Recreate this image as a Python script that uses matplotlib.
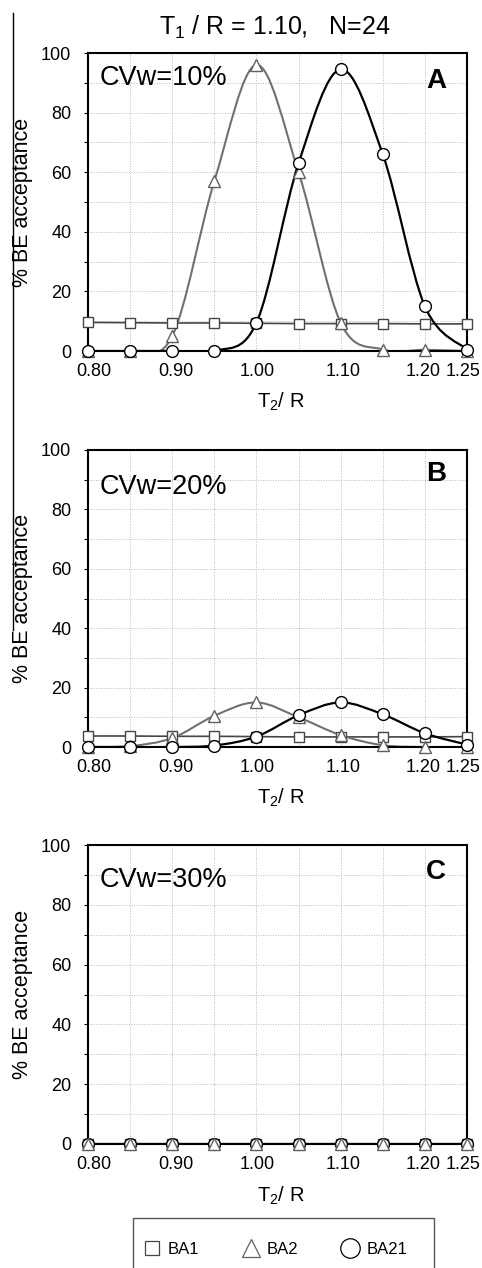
import matplotlib
matplotlib.use('Agg')
import matplotlib.pyplot as plt
from matplotlib.path import Path
from matplotlib.patches import PathPatch, Rectangle
from matplotlib.lines import Line2D
from matplotlib.transforms import ScaledTranslation

plt.rcParams['font.family'] = ['Liberation Sans', 'DejaVu Sans']
plt.rcParams['mathtext.fontset'] = 'custom'
plt.rcParams['mathtext.rm'] = 'Liberation Sans'

##################################
# DATA

t2_ratio = [0.80, 0.85, 0.90, 0.95, 1.00, 1.05, 1.10, 1.15, 1.20, 1.25]
tick_labels = ['0.80', '', '0.90', '', '1.00', '', '1.10', '', '1.20', '1.25']

ba1_a = [9.6, 9.5, 9.4, 9.4, 9.3, 9.2, 9.2, 9.2, 9.1, 9.1]
ba2_a = [0, 0, 5, 57, 96, 60, 9.5, 0.5, 0.4, 0]
ba21_a = [0, 0, 0, 0, 9.5, 63, 94.5, 66, 15, 0.5]

ba1_b = [3.7, 3.7, 3.6, 3.6, 3.5, 3.4, 3.4, 3.4, 3.4, 3.5]
ba2_b = [0, 0.3, 3, 10.5, 15, 10, 4, 0.6, 0, 0]
ba21_b = [0, 0, 0, 0.5, 3.5, 10.7, 15, 11, 4.6, 0.8]

ba1_c = [0, 0, 0, 0, 0, 0, 0, 0, 0, 0]
ba2_c = [0, 0, 0, 0, 0, 0, 0, 0, 0, 0]
ba21_c = [0, 0, 0, 0, 0, 0, 0, 0, 0, 0]

panel_letters = ['A', 'B', 'C']
cv_labels = ['CVw=10%', 'CVw=20%', 'CVw=30%']
series_names = ['BA1', 'BA2', 'BA21']


def smooth_path(x, y):
    """ Excel-like smoothed line through the points (cubic bezier segments) """
    n = len(x)
    verts = [(x[0], y[0])]
    codes = [Path.MOVETO]
    for i in range(n - 1):
        x0, y0 = (x[i - 1], y[i - 1]) if i > 0 else (x[i], y[i])
        x3, y3 = (x[i + 2], y[i + 2]) if i + 2 < n else (x[i + 1], y[i + 1])
        c1 = (x[i] + (x[i + 1] - x0) / 6, y[i] + (y[i + 1] - y0) / 6)
        c2 = (x[i + 1] - (x3 - x[i]) / 6, y[i + 1] - (y3 - y[i]) / 6)
        verts += [c1, c2, (x[i + 1], y[i + 1])]
        codes += [Path.CURVE4] * 3
    return Path(verts, codes)


# style of each series
styles = {
    'BA1': dict(color='#454545', lw=1.2, marker='s', ms=6.5, mec='#454545'),
    'BA2': dict(color='#707070', lw=1.5, marker='^', ms=8, mec='#606060'),
    'BA21': dict(color='black', lw=1.6, marker='o', ms=8.5, mec='black'),
}

W, H = 482, 1268
fig = plt.figure(figsize=(W / 100, H / 100), dpi=100)

# axes boxes in pixels: (top, bottom)
boxes = [(53, 351), (450, 747), (845, 1144)]
left_px, right_px = 88, 467
cv_y = [0.915, 0.875, 0.883]
letter_y = [0.905, 0.92, 0.91]
label_shift_px = [6, 0, 4, 0, 1, 0, 2, 0, -2, -4]
data = [(ba1_a, ba2_a, ba21_a), (ba1_b, ba2_b, ba21_b), (ba1_c, ba2_c, ba21_c)]

for k, (top, bot) in enumerate(boxes):
    ax = fig.add_axes([left_px / W, 1 - bot / H, (right_px - left_px) / W, (bot - top) / H])
    ax.set_xlim(0.80, 1.25)
    ax.set_ylim(0, 100)

    ax.set_xticks(t2_ratio)
    ax.set_xticklabels(tick_labels)
    ax.set_yticks(range(0, 101, 10))
    ax.set_yticklabels([str(v) if v % 20 == 0 else '' for v in range(0, 101, 10)])
    ax.tick_params(axis='x', length=0, pad=8.5, labelsize=13)
    ax.tick_params(axis='y', length=3, width=0.8, direction='out', pad=9, labelsize=13)
    for lab, dx in zip(ax.get_xticklabels(), label_shift_px):
        lab.set_transform(lab.get_transform() + ScaledTranslation(dx / 100, 0, fig.dpi_scale_trans))
    ax.grid(True, color='#b8b8b8', linestyle=(0, (1, 1.6)), linewidth=0.7)
    for sp in ax.spines.values():
        sp.set_linewidth(1.5)

    ax.set_xlabel('T$_\\mathregular{2}$/ R', fontsize=14.5)
    ax.xaxis.label.set_va('center')
    ax.xaxis.set_label_coords(0.51, -0.172)
    ax.text(-0.173, 0.5, '% BE acceptance', transform=ax.transAxes, rotation=90,
            ha='center', va='center', fontsize=15.5)

    for j, (name, values) in enumerate(zip(series_names, data[k])):
        st = styles[name]
        ax.add_patch(PathPatch(smooth_path(t2_ratio, values), fill=False,
                               edgecolor=st['color'], lw=st['lw'], zorder=2 + j * 0.1))
    for j, (name, values) in enumerate(zip(series_names, data[k])):
        st = styles[name]
        z = 4 + j
        if k == 2 and name == 'BA2':
            z = 8
        ax.plot(t2_ratio, values, ls='none', marker=st['marker'], ms=st['ms'],
                mfc='white', mec=st['mec'], mew=1.0, clip_on=False, zorder=z)

    ax.text(0.03, cv_y[k], cv_labels[k], transform=ax.transAxes, fontsize=19.5,
            ha='left', va='center', zorder=10)
    ax.text(0.918, letter_y[k], panel_letters[k], transform=ax.transAxes, fontsize=20,
            fontweight='bold', ha='center', va='center', zorder=10)

fig.text(275 / W, 1 - 27 / H, 'T$_\\mathregular{1}$ / R = 1.10,   N=24',
         ha='center', va='center', fontsize=18)

# border line left over from the original page
fig.add_artist(Line2D([13 / W, 13 / W], [1 - 13 / H, 1 - 630 / H],
                      transform=fig.transFigure, color='black', lw=1))

# legend box (runs off the bottom of the page)
fig.add_artist(Rectangle((133 / W, -0.01), 301 / W, 0.01 + 1 - 1218 / H,
                         transform=fig.transFigure, fill=False,
                         edgecolor='#555555', lw=1.0))
handles = [Line2D([], [], ls='none', marker=styles[n]['marker'],
                  ms=styles[n]['ms'] * 1.65, mfc='white', mec=styles[n]['mec'], mew=0.9)
           for n in series_names]
handles[0].set_markersize(9.5)
fig.legend(handles, series_names, ncol=3, loc='center left',
           bbox_to_anchor=(143.5 / W, 1 - 1249 / H),
           fontsize=12, frameon=False, borderpad=0, borderaxespad=0,
           handletextpad=0.46, handlelength=1.0, columnspacing=2.6)

fig.savefig('out.png', dpi=100)
